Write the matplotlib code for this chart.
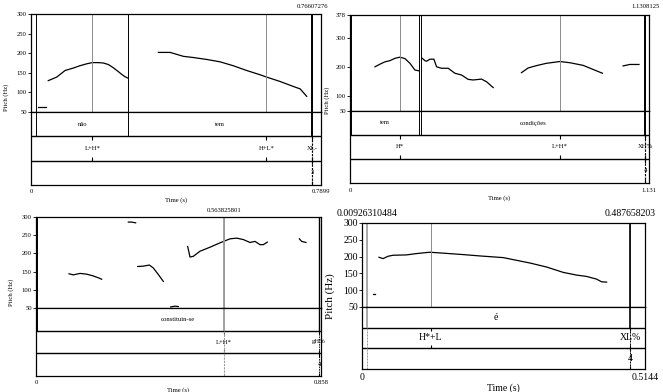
import matplotlib.pyplot as plt

plt.rcParams['font.family'] = ['Liberation Serif', 'DejaVu Serif']

W, H = 663, 392

# ---------- panel 1: "não tem"
p1_end = 0.7899
p1_yticks = [50, 100, 150, 200, 250, 300]
p1_seg_t = [
    [0.020, 0.040],
    [0.047, 0.070, 0.093, 0.115, 0.133, 0.152, 0.167, 0.183, 0.197, 0.211, 0.224, 0.238, 0.247, 0.256, 0.265],
    [0.347, 0.379, 0.397, 0.415, 0.442, 0.479, 0.515, 0.551, 0.587, 0.624, 0.642, 0.678, 0.715, 0.733, 0.751],
]
p1_seg_f = [
    [64, 64],
    [130, 139, 156, 162, 168, 173, 176, 176, 175, 171, 163, 153, 146, 140, 136],
    [202, 202, 197, 192, 189, 184, 178, 168, 156, 145, 139, 128, 115, 109, 90],
]
p1_bounds = [0.0145, 0.265]
p1_words = ['', 'não', 'tem']
p1_tones_t = [0.167, 0.641, 0.766]
p1_tones = ['L+H*', 'H+L*', 'XL-']
p1_breaks_t = [0.766]
p1_breaks = ['3']
p1_cursors = [(0.766, '0.76607276', 'black', 1.4)]

# ---------- panel 2: "tem condições"
p2_end = 1.131
p2_yticks = [50, 100, 200, 300, 378]
p2_seg_t = [
    [0.0945, 0.1134, 0.1322, 0.1511, 0.1700, 0.1889, 0.2078, 0.2267, 0.2456, 0.2620],
    [0.2733, 0.2834, 0.2897, 0.3023, 0.3174, 0.3275, 0.3464, 0.3715, 0.3967, 0.4219, 0.4471, 0.4660, 0.4975, 0.5164, 0.5416],
    [0.6486, 0.6738, 0.7053, 0.7431, 0.7935, 0.8312, 0.8816, 0.9194, 0.9547],
    [1.0328, 1.0580, 1.0932],
]
p2_seg_f = [
    [201, 210, 218, 222, 230, 234, 229, 213, 190, 187],
    [230, 222, 220, 227, 227, 201, 196, 196, 179, 173, 158, 156, 159, 150, 130],
    [181, 197, 205, 213, 219, 215, 206, 192, 179],
    [204, 209, 209],
]
p2_bounds = [0.0025, 0.262, 0.267]
p2_words = ['', 'tem', '', 'condições']
p2_tones_t = [0.189, 0.7935, 1.117]
p2_tones = ['H*', 'L+H*', 'XH%']
p2_breaks_t = [1.117]
p2_breaks = ['4']
p2_cursors = [(1.117, '1.1308125', 'black', 1.4)]

# ---------- panel 3: "constituin-se"
p3_end = 0.858
p3_yticks = [50, 100, 150, 200, 250, 300]
p3_seg_t = [
    [0.278, 0.288, 0.300],
    [0.0993, 0.1124, 0.1325, 0.1525, 0.1726, 0.1877, 0.1977],
    [0.3061, 0.3231, 0.3412, 0.3532, 0.3683, 0.3833],
    [0.4054, 0.4185, 0.4285],
    [0.4566, 0.4636, 0.4737, 0.4937, 0.5238, 0.5539, 0.5840, 0.6041, 0.6242, 0.6442, 0.6593, 0.6743, 0.6844, 0.6964],
    [0.7928, 0.7998, 0.8128],
]
p3_seg_f = [
    [286, 286, 284],
    [144, 141, 145, 143, 138, 133, 129],
    [164, 165, 168, 160, 142, 123],
    [53, 55, 54],
    [219, 190, 192, 206, 217, 229, 240, 242, 238, 230, 233, 224, 224, 231],
    [240, 233, 230],
]
p3_bounds = [0.002]
p3_words = ['', 'constituin-se']
p3_tones_t = [0.566, 0.852]
p3_tones = ['L+H*', 'gH%']
p3_breaks_t = [0.852]
p3_breaks = ['4']
p3_cursors = [(0.566, '0.563825801', '#9a9a9a', 1.3), (0.852, '', 'black', 1.0)]

# ---------- panel 4: "é"
p4_end = 0.5144
p4_yticks = [50, 100, 150, 200, 250, 300]
p4_seg_t = [
    [0.0200, 0.0237],
    [0.0309, 0.0382, 0.0473, 0.0564, 0.0807, 0.0989, 0.1231, 0.1413, 0.1838, 0.2141,
     0.2566, 0.2809, 0.3051, 0.3355, 0.3658, 0.3900, 0.4082, 0.4264, 0.4355, 0.4446],
]
p4_seg_f = [
    [88, 88],
    [198, 194, 201, 204, 205, 209, 213, 211, 206, 202, 197, 189, 181, 169, 153, 145, 141, 133, 125, 124],
]
p4_bounds = []
p4_words = ['é']
p4_tones_t = [0.125, 0.488]
p4_tones = ['H*+L', 'XL%']
p4_breaks_t = [0.488]
p4_breaks = ['4']
p4_cursors = [(0.0097, '0.00926310484', '#9a9a9a', 1.2), (0.488, '0.487658203', 'black', 1.2)]

fig = plt.figure(figsize=(W / 100, H / 100), dpi=100)


def px(v):
    # pixels -> points
    return v * 0.72


def add_panel(box, end, fmax, yticks, seg_t, seg_f, bounds, words, tones_t, tones,
              breaks_t, breaks, cursors, fs, dy_top, dy_bot, dy_lab):
    x0, top, x1, y50, bottom = box
    pax = fig.add_axes([x0 / W, 1 - y50 / H, (x1 - x0) / W, (y50 - top) / H])
    tax = fig.add_axes([x0 / W, 1 - bottom / H, (x1 - x0) / W, (bottom - y50) / H])

    for t, f in zip(seg_t, seg_f):
        pax.plot(t, f, color='black', lw=0.9)
    pax.set_xlim(0, end)
    pax.set_ylim(50, fmax)
    pax.set_xticks([])
    pax.set_yticks(yticks)
    pax.tick_params(axis='y', direction='out', length=2.5, width=0.6, pad=0.5,
                    labelsize=fs)
    tax.set_xlim(0, end)
    tax.set_ylim(3, 0)
    tax.set_xticks([])
    tax.set_yticks([])
    for a in (pax, tax):
        for s in a.spines.values():
            s.set_linewidth(0.9)
    tax.axhline(1, color='black', lw=1.0)
    tax.axhline(2, color='black', lw=1.0)

    # interval tier (words)
    edges = [0] + list(bounds) + [cursors[-1][0] if cursors[-1][2] == 'black' else end]
    for b in bounds:
        pax.axvline(b, color='black', lw=0.7)
        tax.vlines(b, 0, 1, color='black', lw=0.7)
    for i, w in enumerate(words):
        if w:
            tax.text((edges[i] + edges[i + 1]) / 2, 0.5, w, ha='center', va='center',
                     fontsize=fs)

    # tones tier
    for t, lab in zip(tones_t, tones):
        pax.axvline(t, color='#8c8c8c', lw=0.7)
        tax.vlines(t, 1, 1.15, color='black', lw=0.8)
        tax.vlines(t, 1.85, 2, color='black', lw=0.8)
        tax.text(t, 1.5, lab, ha='center', va='center', fontsize=fs)

    # break index tier
    for t, lab in zip(breaks_t, breaks):
        tax.vlines(t, 2, 2.15, color='black', lw=0.8)
        tax.vlines(t, 2.85, 3, color='black', lw=0.8)
        tax.text(t, 2.5, lab, ha='center', va='center', fontsize=fs)

    # cursors / bold boundaries
    for t, lab, col, lw in cursors:
        pax.axvline(t, color=col, lw=lw)
        tax.vlines(t, 0, 1, color=col, lw=lw)
        tax.vlines(t, 1, 3, color=col, lw=lw * 0.6, linestyles=(0, (2, 1)))
        if lab:
            pax.annotate(lab, (t, 1), xycoords=('data', 'axes fraction'),
                         xytext=(0, px(dy_top)), textcoords='offset points',
                         ha='center', va='center', fontsize=fs)

    for t, lab in [(0, '0'), (end, '%g' % end)]:
        tax.annotate(lab, (t, 0), xycoords=('data', 'axes fraction'),
                     xytext=(0, -px(dy_bot)), textcoords='offset points',
                     ha='center', va='center', fontsize=fs)
    tax.annotate('Time (s)', (end / 2, 0), xycoords=('data', 'axes fraction'),
                 xytext=(0, -px(dy_lab)), textcoords='offset points',
                 ha='center', va='center', fontsize=fs)
    return pax, tax


add_panel((31, 14, 321, 112, 185), p1_end, 300, p1_yticks, p1_seg_t, p1_seg_f,
          p1_bounds, p1_words, p1_tones_t, p1_tones, p1_breaks_t, p1_breaks,
          p1_cursors, 4.8, 8, 7, 15)
add_panel((350, 15, 649, 111, 183), p2_end, 378, p2_yticks, p2_seg_t, p2_seg_f,
          p2_bounds, p2_words, p2_tones_t, p2_tones, p2_breaks_t, p2_breaks,
          p2_cursors, 4.8, 8, 8, 15)
add_panel((36, 217, 321, 308, 376), p3_end, 300, p3_yticks, p3_seg_t, p3_seg_f,
          p3_bounds, p3_words, p3_tones_t, p3_tones, p3_breaks_t, p3_breaks,
          p3_cursors, 4.8, 7, 6, 14)
add_panel((362, 223, 645, 307, 369), p4_end, 300, p4_yticks, p4_seg_t, p4_seg_f,
          p4_bounds, p4_words, p4_tones_t, p4_tones, p4_breaks_t, p4_breaks,
          p4_cursors, 7, 9, 9, 19)

# axis titles that sit outside the frames
fig.text(6 / W, 1 - 97 / H, 'Pitch (Hz)', rotation=90, ha='center', va='center', fontsize=4.8)
fig.text(327 / W, 1 - 100 / H, 'Pitch (Hz)', rotation=90, ha='center', va='center', fontsize=4.8)
fig.text(11 / W, 1 - 292 / H, 'Pitch (Hz)', rotation=90, ha='center', va='center', fontsize=4.8)
fig.text(330 / W, 1 - 296 / H, 'Pitch (Hz)', rotation=90, ha='center', va='center', fontsize=8)

fig.savefig('out.png', dpi=100)
